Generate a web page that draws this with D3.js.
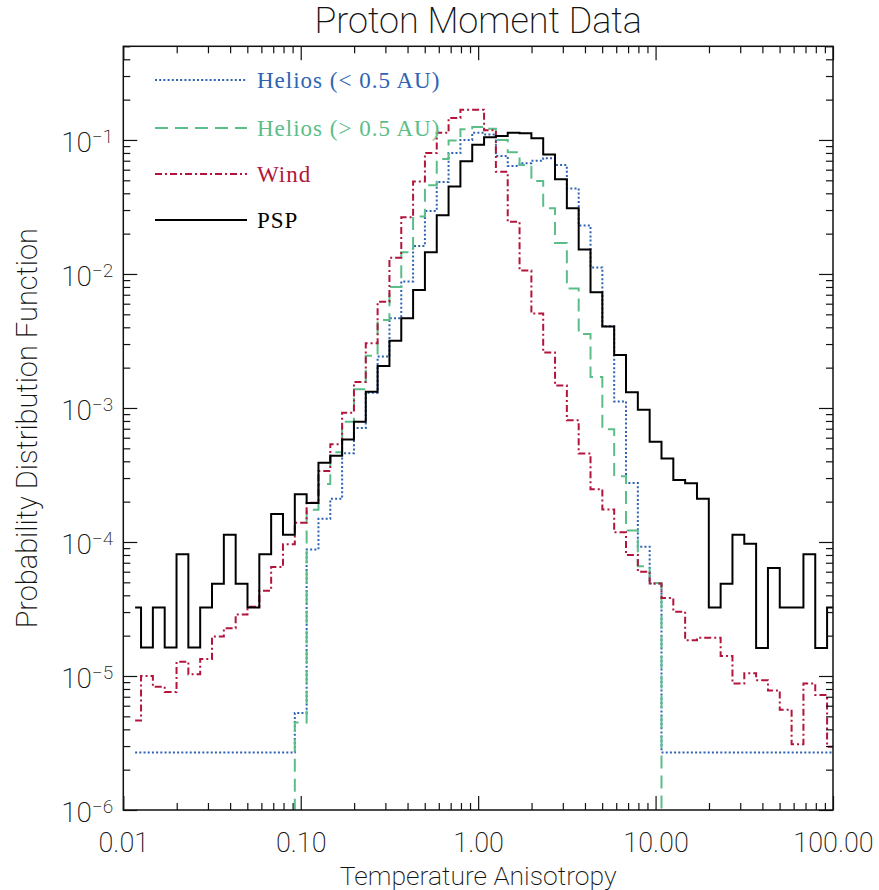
<!DOCTYPE html>
<html>
<head>
<meta charset="utf-8">
<script src="https://cdn.jsdelivr.net/npm/d3@7"></script>
<style>
  body { margin: 0; background: #fff; }
  text { font-family: Roboto, "DejaVu Sans", sans-serif; font-weight: 200; fill: #111; }
  .legend text { font-family: "Liberation Serif", "DejaVu Serif", serif; font-weight: 400; }
</style>
</head>
<body>
<div id="chart"></div>
<script>
// histogram bins: 15 log bins per decade, centres from 0.0117 to 100
var binsPerDecade = 15;
var anisotropy = d3.range(1, 61).map(function(k) { return 0.01 * Math.pow(10, k / binsPerDecade); });

var heliosInner = [
  2.69e-6, 2.69e-6, 2.69e-6, 2.69e-6, 2.69e-6, 2.69e-6, 2.69e-6, 2.69e-6, 2.69e-6, 2.69e-6,
  2.69e-6, 2.69e-6, 2.69e-6, 2.69e-6, 5.3e-6, 8.8e-5, 1.49e-4, 2.1e-4, 4.6e-4, 7.1e-4,
  1.3e-3, 2.42e-3, 4.67e-3, 8.8e-3, 1.62e-2, 2.95e-2, 4.85e-2, 8.0e-2, 0.100, 0.113,
  0.110, 0.076, 0.064, 0.067, 0.070, 0.073, 0.065, 0.0435, 0.023, 0.0112,
  4.07e-3, 1.12e-3, 2.75e-4, 9.2e-5, 4.9e-5, 2.69e-6, 2.69e-6, 2.69e-6, 2.69e-6, 2.69e-6,
  2.69e-6, 2.69e-6, 2.69e-6, 2.69e-6, 2.69e-6, 2.69e-6, 2.69e-6, 2.69e-6, 2.69e-6, 2.69e-6
];
var heliosOuter = [
  0, 0, 0, 0, 0, 0, 0, 0, 0, 0,
  0, 0, 0, 0, 4.5e-6, 1.74e-4, 2.71e-4, 4.67e-4, 7.9e-4, 1.38e-3,
  2.45e-3, 4.54e-3, 8.0e-3, 1.45e-2, 2.68e-2, 4.6e-2, 7.2e-2, 9.9e-2, 0.120, 0.125,
  0.121, 0.100, 0.081, 0.065, 0.0495, 0.031, 0.017, 7.8e-3, 3.56e-3, 1.7e-3,
  6.95e-4, 3.1e-4, 1.22e-4, 6.6e-5, 4.95e-5, 0, 0, 0, 0, 0,
  0, 0, 0, 0, 0, 0, 0, 0, 0, 0
];
var wind = [
  4.65e-6, 1.0e-5, 8.3e-6, 7.6e-6, 1.28e-5, 1.03e-5, 1.34e-5, 1.97e-5, 2.27e-5, 2.88e-5,
  3.29e-5, 4.33e-5, 6.5e-5, 9.6e-5, 1.39e-4, 1.96e-4, 3.39e-4, 5.36e-4, 9.2e-4, 1.56e-3,
  3.04e-3, 6.2e-3, 1.32e-2, 2.65e-2, 4.9e-2, 8.0e-2, 0.113, 0.146, 0.168, 0.168,
  0.118, 0.058, 0.0245, 0.0106, 5.06e-3, 2.59e-3, 1.47e-3, 8.1e-4, 4.57e-4, 2.48e-4,
  1.75e-4, 1.18e-4, 8.0e-5, 6.0e-5, 4.9e-5, 3.82e-5, 3.02e-5, 1.85e-5, 1.93e-5, 1.93e-5,
  1.41e-5, 8.8e-6, 1.05e-5, 9.3e-6, 7.8e-6, 5.6e-6, 3.09e-6, 8.8e-6, 7.2e-6, 2.96e-6
];
var psp = [
  3.24e-5, 1.63e-5, 3.24e-5, 1.63e-5, 8.1e-5, 1.63e-5, 3.24e-5, 4.87e-5, 1.13e-4, 4.87e-5,
  3.24e-5, 8.1e-5, 1.62e-4, 1.13e-4, 2.27e-4, 1.95e-4, 3.91e-4, 4.41e-4, 5.83e-4, 7.9e-4,
  1.32e-3, 2.06e-3, 3.18e-3, 4.67e-3, 7.6e-3, 1.45e-2, 2.74e-2, 4.49e-2, 6.95e-2, 9.2e-2,
  0.105, 0.107, 0.113, 0.112, 0.103, 0.078, 0.051, 0.031, 0.0152, 7.3e-3,
  4.05e-3, 2.49e-3, 1.31e-3, 9.7e-4, 5.6e-4, 4.2e-4, 2.9e-4, 2.74e-4, 2.1e-4, 3.24e-5,
  4.87e-5, 1.13e-4, 9.7e-5, 1.62e-5, 6.4e-5, 3.24e-5, 3.24e-5, 8.1e-5, 1.62e-5, 3.24e-5
];

var seriesNames = ["Helios (< 0.5 AU)", "Helios (> 0.5 AU)", "Wind", "PSP"];
var seriesData = [heliosInner, heliosOuter, wind, psp];
var seriesColors = ["#2e63b3", "#5bbd88", "#b3143c", "#000000"];
var seriesDash = ["2,2.2", "13,7", "7,3,2,3", null];

var xTickValues = [0.01, 0.1, 1, 10, 100];
var xTickLabels = ["0.01", "0.10", "1.00", "10.00", "100.00"];
var yTickValues = [1e-6, 1e-5, 1e-4, 1e-3, 1e-2, 1e-1];
var yTickExponents = ["−6", "−5", "−4", "−3", "−2", "−1"];

var W = 879, H = 890;
var plotL = 123.3, plotR = 833, plotT = 46.3, plotB = 810;

var svg = d3.select("#chart").append("svg").attr("width", W).attr("height", H);

var x = d3.scaleLog().domain([0.01, 100]).range([plotL, plotR]);
var y = d3.scaleLog().domain([1e-6, 0.5]).range([plotB, plotT]);

var minorX = [];
[0.01, 0.1, 1, 10].forEach(function(d) { for (var m = 2; m < 10; m++) minorX.push(d * m); });
var minorY = [];
[1e-6, 1e-5, 1e-4, 1e-3, 1e-2, 1e-1].forEach(function(d) { for (var m = 2; m < 10; m++) if (d * m <= 0.5) minorY.push(d * m); });

svg.append("defs").append("clipPath").attr("id", "plotclip")
  .append("rect").attr("x", plotL).attr("y", plotT).attr("width", plotR - plotL).attr("height", plotB - plotT);

// curves
var line = d3.line()
  .curve(d3.curveStep)
  .x(function(d, i) { return x(anisotropy[i]); })
  .y(function(d) { return y(d > 0 ? d : 1e-9); });

var curves = svg.append("g").attr("clip-path", "url(#plotclip)");
seriesData.forEach(function(s, i) {
  curves.append("path")
    .attr("d", line(s))
    .attr("fill", "none")
    .attr("stroke", seriesColors[i])
    .attr("stroke-width", 2)
    .attr("stroke-dasharray", seriesDash[i]);
});

// axes, ticks inward on all four sides
function styleAxis(g) {
  g.select(".domain").remove();
  g.selectAll(".tick line").attr("stroke", "#111").attr("stroke-width", 1.2);
}

svg.append("g").attr("transform", "translate(0," + plotB + ")")
  .call(d3.axisBottom(x).tickValues(minorX).tickSize(-7).tickFormat(""))
  .call(styleAxis);
svg.append("g").attr("transform", "translate(0," + plotT + ")")
  .call(d3.axisTop(x).tickValues(minorX).tickSize(-7).tickFormat(""))
  .call(styleAxis);
svg.append("g").attr("transform", "translate(0," + plotT + ")")
  .call(d3.axisTop(x).tickValues(xTickValues).tickSize(-14).tickFormat(""))
  .call(styleAxis);
var xAxis = svg.append("g").attr("transform", "translate(0," + plotB + ")")
  .call(d3.axisBottom(x).tickValues(xTickValues).tickSize(-14).tickPadding(23)
    .tickFormat(function(d, i) { return xTickLabels[i]; }))
  .call(styleAxis);
xAxis.selectAll(".tick text").attr("font-size", 27).attr("font-family", null).attr("fill", "#111");

svg.append("g").attr("transform", "translate(" + plotL + ",0)")
  .call(d3.axisLeft(y).tickValues(minorY).tickSize(-7).tickFormat(""))
  .call(styleAxis);
svg.append("g").attr("transform", "translate(" + plotR + ",0)")
  .call(d3.axisRight(y).tickValues(minorY).tickSize(-7).tickFormat(""))
  .call(styleAxis);
svg.append("g").attr("transform", "translate(" + plotR + ",0)")
  .call(d3.axisRight(y).tickValues(yTickValues).tickSize(-14).tickFormat(""))
  .call(styleAxis);
var yAxis = svg.append("g").attr("transform", "translate(" + plotL + ",0)")
  .call(d3.axisLeft(y).tickValues(yTickValues).tickSize(-14).tickPadding(10).tickFormat(""))
  .call(styleAxis);
yAxis.selectAll(".tick text")
  .attr("font-size", 28).attr("font-family", null).attr("fill", "#111")
  .attr("dy", "0.42em")
  .each(function(d, i) {
    var t = d3.select(this);
    t.append("tspan").text("10");
    t.append("tspan").attr("dy", "-0.5em").attr("font-size", 19).text(yTickExponents[i]);
  });

// frame
svg.append("rect")
  .attr("x", plotL).attr("y", plotT).attr("width", plotR - plotL).attr("height", plotB - plotT)
  .attr("fill", "none").attr("stroke", "#111").attr("stroke-width", 1.5);

// titles
svg.append("text").attr("x", (plotL + plotR) / 2).attr("y", 33)
  .attr("text-anchor", "middle").attr("font-size", 36).text("Proton Moment Data");
svg.append("text").attr("x", (plotL + plotR) / 2).attr("y", 885)
  .attr("text-anchor", "middle").attr("font-size", 26.5).text("Temperature Anisotropy");
svg.append("text").attr("transform", "translate(37," + ((plotT + plotB) / 2) + ") rotate(-90)")
  .attr("text-anchor", "middle").attr("font-size", 29).text("Probability Distribution Function");

// legend
var legend = svg.append("g").attr("class", "legend");
var legendY = [80, 128, 174, 220];
seriesNames.forEach(function(name, i) {
  legend.append("line")
    .attr("x1", 155).attr("x2", 247).attr("y1", legendY[i]).attr("y2", legendY[i])
    .attr("stroke", seriesColors[i]).attr("stroke-width", 2)
    .attr("stroke-dasharray", seriesDash[i]);
  legend.append("text")
    .attr("x", 257).attr("y", legendY[i] + 8)
    .attr("font-size", 23).attr("letter-spacing", 1)
    .style("fill", seriesColors[i])
    .text(name);
});
</script>
</body>
</html>
